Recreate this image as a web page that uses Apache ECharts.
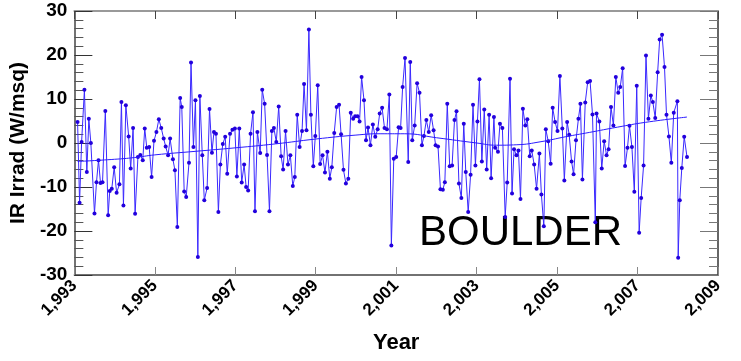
<!DOCTYPE html>
<html>
<head>
<meta charset="utf-8">
<script src="https://cdn.jsdelivr.net/npm/echarts@6/dist/echarts.min.js"></script>
<style>
  html, body { margin: 0; padding: 0; background: #fff; }
  #main { width: 741px; height: 361px; }
</style>
</head>
<body>
<div id="main"></div>
<script>
// base year for the x axis (ticks are counted from min, so offsets are used)
var baseYear = 1993;
var xTicks = [1993, 1995, 1997, 1999, 2001, 2003, 2005, 2007, 2009];
var yTicks = [-30, -20, -10, 0, 10, 20, 30];

// sample times (decimal year) and IR irradiance anomaly (W/msq)
var years = [
  1993.08, 1993.13, 1993.18, 1993.25, 1993.31, 1993.36, 1993.41, 1993.50, 1993.55, 1993.60,
  1993.65, 1993.70, 1993.77, 1993.84, 1993.88, 1993.93, 1993.99, 1994.05, 1994.12, 1994.17,
  1994.22, 1994.28, 1994.35, 1994.40, 1994.46, 1994.51, 1994.58, 1994.64, 1994.70, 1994.75,
  1994.80, 1994.86, 1994.92, 1994.98, 1995.04, 1995.10, 1995.16, 1995.22, 1995.27, 1995.33,
  1995.38, 1995.45, 1995.50, 1995.56, 1995.63, 1995.67, 1995.73, 1995.78, 1995.85, 1995.90,
  1995.96, 1996.01, 1996.07, 1996.12, 1996.18, 1996.23, 1996.30, 1996.36, 1996.42, 1996.47,
  1996.52, 1996.58, 1996.63, 1996.69, 1996.75, 1996.80, 1996.87, 1996.93, 1996.99, 1997.04,
  1997.10, 1997.16, 1997.22, 1997.27, 1997.32, 1997.38, 1997.44, 1997.49, 1997.55, 1997.62,
  1997.67, 1997.73, 1997.79, 1997.85, 1997.91, 1997.96, 1998.02, 1998.08, 1998.14, 1998.19,
  1998.25, 1998.31, 1998.37, 1998.43, 1998.48, 1998.54, 1998.60, 1998.66, 1998.71, 1998.77,
  1998.83, 1998.88, 1998.94, 1998.99, 1999.05, 1999.11, 1999.17, 1999.23, 1999.29, 1999.35,
  1999.40, 1999.46, 1999.52, 1999.58, 1999.63, 1999.69, 1999.75, 1999.81, 1999.87, 1999.93,
  1999.98, 2000.04, 2000.09, 2000.14, 2000.20, 2000.25, 2000.30, 2000.36, 2000.42, 2000.48,
  2000.54, 2000.59, 2000.65, 2000.71, 2000.77, 2000.83, 2000.88, 2000.94, 2001.00, 2001.06,
  2001.11, 2001.16, 2001.22, 2001.30, 2001.35, 2001.40, 2001.46, 2001.52, 2001.58, 2001.64,
  2001.69, 2001.75, 2001.81, 2001.87, 2001.93, 2001.98, 2002.04, 2002.10, 2002.16, 2002.21,
  2002.27, 2002.33, 2002.39, 2002.45, 2002.50, 2002.56, 2002.62, 2002.68, 2002.73, 2002.79,
  2002.85, 2002.91, 2002.97, 2003.02, 2003.07, 2003.13, 2003.19, 2003.25, 2003.31, 2003.36,
  2003.43, 2003.46, 2003.53, 2003.58, 2003.64, 2003.71, 2003.76, 2003.83, 2003.88, 2003.93,
  2003.99, 2004.04, 2004.09, 2004.15, 2004.21, 2004.26, 2004.32, 2004.37, 2004.43, 2004.49,
  2004.56, 2004.61, 2004.67, 2004.72, 2004.78, 2004.84, 2004.89, 2004.95, 2005.01, 2005.07,
  2005.13, 2005.18, 2005.25, 2005.30, 2005.36, 2005.41, 2005.47, 2005.53, 2005.58, 2005.63,
  2005.70, 2005.76, 2005.82, 2005.88, 2005.95, 2005.98, 2006.05, 2006.11, 2006.17, 2006.23,
  2006.28, 2006.34, 2006.40, 2006.46, 2006.52, 2006.57, 2006.63, 2006.69, 2006.75, 2006.80,
  2006.86, 2006.92, 2006.98, 2007.04, 2007.09, 2007.15, 2007.21, 2007.27, 2007.33, 2007.38,
  2007.44, 2007.50, 2007.55, 2007.61, 2007.67, 2007.72, 2007.78, 2007.84, 2007.90, 2007.99,
  2008.01, 2008.05, 2008.10, 2008.16, 2008.23
];
var irrad = [
  4.8, -13.6, 0.2, 12.1, -6.6, 5.5, 0.0, -16.0, -8.9, -3.9,
  -9.1, -8.9, 7.3, -16.4, -10.9, -10.4, -5.5, -11.3, -9.4, 9.3,
  -14.2, 8.6, 1.5, -5.8, 3.4, -16.1, -3.2, -2.7, -3.9, 3.3,
  -1.1, -0.9, -7.7, 0.5, 2.5, 5.4, 3.4, 1.0, -0.8, -2.8,
  1.0, -3.7, -6.2, -19.1, 10.2, 8.2, -11.0, -12.3, -4.5, 18.3,
  -0.9, 9.7, -25.9, 10.7, -2.8, -13.0, -10.2, 7.7, -2.2, 2.5,
  2.1, -15.7, -4.9, -0.2, 1.4, -7.0, 2.1, 3.0, 3.3, -7.6,
  3.3, -9.0, -4.9, -10.0, -10.8, 2.1, 7.0, -15.5, 2.5, -2.3,
  12.1, 8.9, -2.7, -15.5, 2.7, 3.4, 0.2, 8.3, -3.0, -6.0,
  2.7, -4.9, -2.8, -9.8, -7.7, 6.4, -0.9, 2.7, 13.4, 2.9,
  25.8, 6.4, -5.3, 1.6, 13.1, -4.8, -2.8, -6.7, -2.0, -8.1,
  -5.5, 2.3, 8.2, 8.7, 2.0, -6.1, -9.2, -8.1, 6.9, 5.5,
  6.1, 6.1, 4.9, 15.0, 9.7, 0.6, 3.5, -0.5, 4.2, 1.4,
  3.1, 6.7, 8.0, 3.4, 3.1, 11.0, -23.3, -3.6, -3.2, 3.6,
  3.4, 12.7, 19.3, -4.3, 18.4, 0.6, 4.0, 13.6, 11.4, -0.5,
  1.6, 5.2, 2.5, 6.3, 2.9, -0.5, -0.8, -10.5, -10.6, -8.9,
  8.9, -5.3, -5.1, 5.2, 7.2, -9.2, -12.5, 4.4, -6.6, -15.7,
  -7.2, 8.7, -5.1, 4.9, 14.5, -4.2, 7.6, -6.0, 6.4, -8.0,
  5.9, -1.1, -2.0, 4.4, 3.4, -16.8, -9.0, 14.6, -11.5, -1.4,
  -2.8, -1.7, -12.7, 7.8, 4.0, 5.4, -3.0, -1.7, -4.9, -10.4,
  -2.4, -11.7, -18.9, 3.1, 0.4, -4.7, 8.0, 4.8, 2.7, 15.2,
  3.3, -8.5, 4.8, 1.9, -4.2, -7.1, 0.6, 5.5, 8.9, -8.3,
  9.2, 13.8, 14.1, 6.5, -18.0, 6.7, 4.9, -5.8, 0.4, -2.8,
  -1.4, 8.2, 4.0, 15.0, 11.4, 12.7, 17.0, -5.2, -1.1, 3.9,
  -0.9, -11.1, 13.0, -20.4, -12.5, -5.1, 19.9, 5.5, 10.8, 9.3,
  5.7, 16.1, 23.5, 24.6, 17.3, 6.4, 1.5, -4.5, 6.9, 9.5,
  -26.1, -13.0, -5.7, 1.4, -3.2
];

// smooth trend curve drawn through the series
var trendYears = [1993.08, 1994.0, 1994.5, 1995.0, 1996.0, 1997.0, 1998.0, 1999.0, 2000.0,
  2000.6, 2001.2, 2002.0, 2003.0, 2003.5, 2004.0, 2004.6, 2005.2, 2005.8, 2006.5, 2007.2, 2008.23];
var trendVals = [-4.2, -3.7, -3.3, -2.7, -1.9, -1.1, -0.2, 0.9, 1.8,
  2.1, 2.1, 1.2, 0.0, -0.5, -0.4, 0.3, 1.4, 2.4, 3.6, 4.7, 5.9];

function pairs(xs, ys) {
  return xs.map(function (x, i) { return [x - baseYear, ys[i]]; });
}

var myChart = echarts.init(document.getElementById('main'));
var fontFam = '"Liberation Sans", Arial, sans-serif';
var xMax = xTicks[xTicks.length - 1] - baseYear;

myChart.setOption({
  animation: false,
  textStyle: { fontFamily: fontFam },
  grid: { left: 73, right: 23, top: 11, bottom: 86, show: false },
  xAxis: [{
    type: 'value', position: 'bottom',
    min: 0, max: xMax, interval: 2,
    name: 'Year', nameLocation: 'middle', nameGap: 57,
    nameTextStyle: { fontSize: 22, fontWeight: 'bold', color: '#000' },
    axisLine: { show: true, onZero: false, lineStyle: { color: '#444', width: 1.5 } },
    axisTick: { show: true, inside: true, length: 8, lineStyle: { color: '#888' } },
    axisLabel: {
      rotate: 45, fontSize: 17, fontWeight: 'bold', color: '#000', margin: 8,
      formatter: function (v) { return (v + baseYear).toLocaleString('en-US'); }
    },
    splitLine: { show: false }
  }, {
    type: 'value', position: 'top',
    min: 0, max: xMax, interval: 2,
    axisLine: { show: true, onZero: false, lineStyle: { color: '#999', width: 2 } },
    axisTick: { show: true, inside: true, length: 8, lineStyle: { color: '#444' } },
    axisLabel: { show: false },
    splitLine: { show: false }
  }],
  yAxis: [{
    type: 'value', position: 'left',
    min: yTicks[0], max: yTicks[yTicks.length - 1], interval: 10,
    name: 'IR Irrad (W/msq)', nameLocation: 'middle', nameGap: 44,
    nameTextStyle: { fontSize: 21, fontWeight: 'bold', color: '#000' },
    axisLine: { show: true, onZero: false, lineStyle: { color: '#444', width: 1.5 } },
    axisTick: { show: true, inside: true, length: 18, lineStyle: { color: '#333' } },
    minorTick: { show: true, splitNumber: 5, length: 9, lineStyle: { color: '#555' } },
    axisLabel: { fontSize: 19, fontWeight: 'bold', color: '#000', margin: 7 },
    splitLine: { show: false }
  }, {
    type: 'value', position: 'right',
    min: yTicks[0], max: yTicks[yTicks.length - 1], interval: 10,
    axisLine: { show: true, onZero: false, lineStyle: { color: '#333', width: 1.5 } },
    axisTick: { show: true, inside: true, length: 18, lineStyle: { color: '#777' } },
    minorTick: { show: true, splitNumber: 5, length: 9, lineStyle: { color: '#777' } },
    axisLabel: { show: false },
    splitLine: { show: false }
  }],
  graphic: [{
    type: 'text', left: 419, top: 212,
    style: { text: 'BOULDER', fontSize: 42, fontFamily: fontFam, fill: '#000' }
  }],
  series: [{
    name: 'IR Irrad', type: 'line',
    data: pairs(years, irrad),
    symbol: 'circle', symbolSize: 4, showSymbol: true,
    lineStyle: { color: '#3a28ff', width: 1 },
    itemStyle: { color: '#2200dd' },
    z: 3
  }, {
    name: 'trend', type: 'line',
    data: pairs(trendYears, trendVals),
    smooth: true, symbol: 'none',
    lineStyle: { color: '#2a1aff', width: 1 },
    z: 4
  }]
});
</script>
</body>
</html>
